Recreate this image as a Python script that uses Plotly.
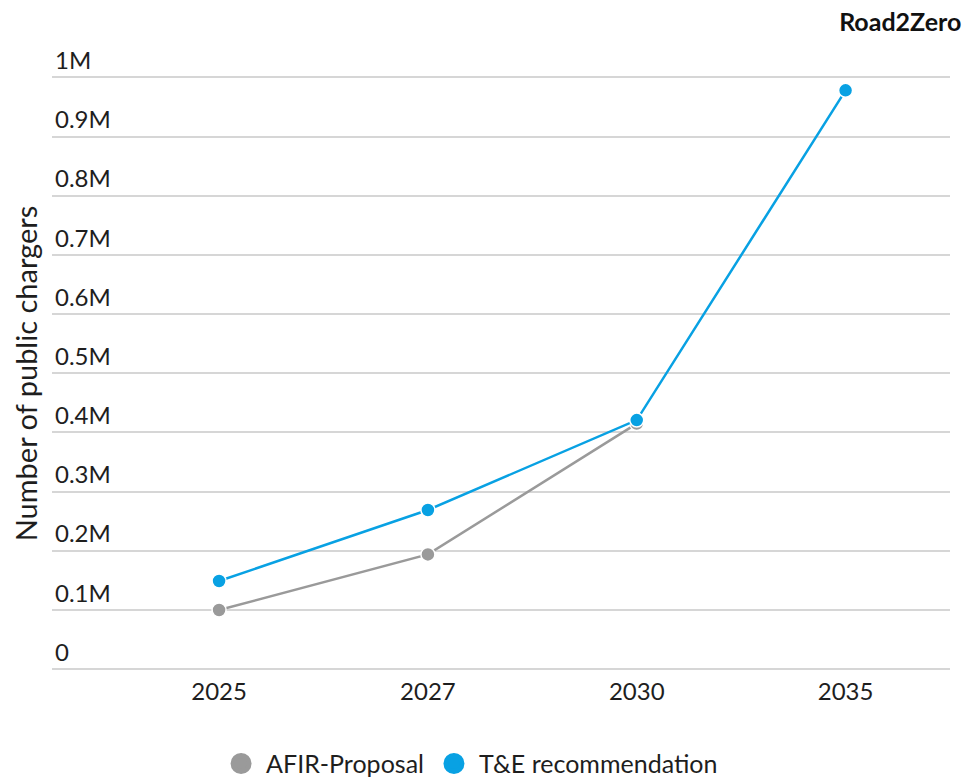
import plotly.graph_objects as go

years = ["2025", "2027", "2030", "2035"]
afir_years = ["2025", "2027", "2030"]
afir_values = [100000, 194000, 415000]
te_years = ["2025", "2027", "2030", "2035"]
te_values = [149000, 269000, 421000, 978000]
y_ticks = [0, 100000, 200000, 300000, 400000, 500000, 600000, 700000, 800000, 900000, 1000000]
y_tick_labels = ["0", "0.1M", "0.2M", "0.3M", "0.4M", "0.5M", "0.6M", "0.7M", "0.8M", "0.9M", "1M"]
y_title = "Number of public chargers"
chart_title = "Road2Zero"

GRAY = "#9a9a9a"
BLUE = "#08a1e3"
FONT = "Lato"
TXT = "#1e1e1e"

fig = go.Figure()
fig.add_trace(go.Scatter(
    x=afir_years, y=afir_values, mode="lines+markers", name="AFIR-Proposal",
    line=dict(color=GRAY, width=2.5),
    marker=dict(color=GRAY, size=14, line=dict(color="white", width=1.5)),
    showlegend=False,
))
fig.add_trace(go.Scatter(
    x=te_years, y=te_values, mode="lines+markers", name="T&E recommendation",
    line=dict(color=BLUE, width=2.5),
    marker=dict(color=BLUE, size=14, line=dict(color="white", width=1.5)),
    showlegend=False,
))
# legend-only entries (marker swatches)
fig.add_trace(go.Scatter(
    x=[None], y=[None], mode="markers", name="AFIR-Proposal",
    marker=dict(color=GRAY, size=16, line=dict(color=GRAY, width=5)),
))
fig.add_trace(go.Scatter(
    x=[None], y=[None], mode="markers", name="T&E recommendation",
    marker=dict(color=BLUE, size=16, line=dict(color=BLUE, width=5)),
))

fig.update_layout(
    width=964, height=772,
    paper_bgcolor="white", plot_bgcolor="white",
    margin=dict(l=44, r=22, t=22, b=109, autoexpand=False),
    font=dict(family=FONT, size=24, color=TXT),
    title=dict(text="<b>" + chart_title + "</b>", xref="container", yref="container",
               x=0.989, xanchor="right", y=0.993, yanchor="top", pad=dict(t=0, b=0, l=0, r=0),
               font=dict(size=25, color="#111111", family=FONT)),
    legend=dict(orientation="h", x=0.465, xanchor="center", xref="paper",
                y=0.021, yanchor="middle", yref="container",
                font=dict(size=25, color=TXT), itemwidth=40,
                traceorder="normal"),
    showlegend=True,
    annotations=[
        dict(text=y_title, xref="paper", yref="y", x=0, xshift=-27, xanchor="center",
             y=500000, yanchor="middle", textangle=-90, showarrow=False,
             font=dict(size=29, color=TXT, family=FONT)),
    ],
)
fig.update_xaxes(
    type="category", categoryorder="array", categoryarray=years,
    range=[-0.8, 3.5], showgrid=False, zeroline=False, showline=False,
    ticks="", tickfont=dict(size=24, color=TXT), ticklabelstandoff=4, automargin=False,
)
fig.update_yaxes(
    range=[-3000, 1080000], tickvals=y_ticks, ticktext=y_tick_labels,
    ticklabelposition="inside top", tickfont=dict(size=24, color=TXT),
    showgrid=True, gridcolor="#d6d6d6", gridwidth=1.5, zeroline=False, showline=False, ticks="",
    automargin=False,
)
fig.write_html("out.html")
